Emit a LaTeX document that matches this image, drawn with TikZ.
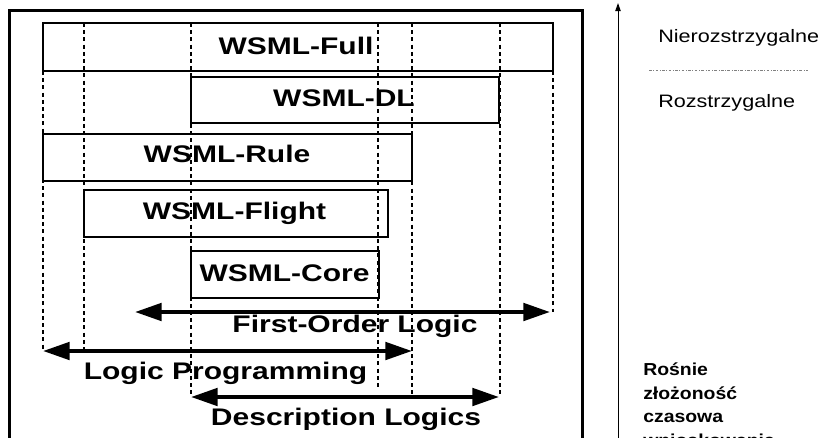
\documentclass[tikz,border=0pt]{standalone}
\usepackage{fontspec}
\setmainfont{Liberation Sans}
\newfontfamily\wsmlfont[FakeStretch=1.25]{Liberation Sans}
\newfontfamily\sidefont[FakeStretch=1.2]{Liberation Sans}
\newfontfamily\notefont[FakeStretch=1.12]{Liberation Sans}
\usetikzlibrary{arrows.meta}

\begin{document}
\begin{tikzpicture}[x=0.75pt,y=-0.75pt,
  box/.style={line width=1.1pt},
  guide/.style={line width=1.1pt, dash pattern=on 3pt off 2.4pt},
  span/.style={line width=3pt, {Triangle[length=20pt,width=13pt]}-{Triangle[length=20pt,width=13pt]}},
  lbl/.style={font=\wsmlfont\bfseries\fontsize{18}{20}\selectfont, inner sep=0pt, anchor=base},
  side/.style={font=\sidefont\fontsize{13.5}{16}\selectfont, inner sep=0pt, anchor=base west}]
\useasboundingbox (0,0) rectangle (821,437);

% frame
\draw[line width=2.25pt] (9,445) -- (9,10) -- (582,10) -- (582,445);

% language boxes
\draw[box] (43,23) rectangle (553,71);
\draw[box] (191,77) rectangle (499,123);
\draw[box] (43,134) rectangle (412,181);
\draw[box] (84,190) rectangle (388,237);
\draw[box] (191,251) rectangle (379,298);

% guide lines
\draw[guide] (43,71) -- (43,351);
\draw[guide] (84,23) -- (84,351);
\draw[guide] (191,23) -- (191,397);
\draw[guide] (378,23) -- (378,390);
\draw[guide] (412,23) -- (412,395);
\draw[guide] (500,23) -- (500,397);
\draw[guide] (553,71) -- (553,312);

\draw(296,54) node[lbl] (full) {WSML-Full};
\draw(344,106) node[lbl] (dl) {WSML-DL};
\draw(227,162) node[lbl] (rule) {WSML-Rule};
\draw(234.5,219) node[lbl] (flight) {WSML-Flight};
\draw(284.5,281) node[lbl] (core) {WSML-Core};

% logic ranges
\coordinate (fol-l) at (135,312);
\coordinate (fol-r) at (550,312);
\coordinate (lp-l) at (43,351);
\coordinate (lp-r) at (412,351);
\coordinate (dls-l) at (191,397);
\coordinate (dls-r) at (499,397);
\draw[span] (fol-l) -- (fol-r);
\draw[span] (lp-l) -- (lp-r);
\draw[span] (dls-l) -- (dls-r);
\draw(355,332) node[lbl] (fol) {First-Order Logic};
\draw(225.5,379) node[lbl] (lp) {Logic Programming};
\draw(346,425) node[lbl] (dls) {Description Logics};

% complexity axis
\coordinate (axis-b) at (618,445);
\coordinate (axis-t) at (618,3);
\draw[line width=0.75pt, -{Triangle[length=6pt,width=4pt]}] (axis-b) -- (axis-t);
\draw(658,42) node[side] (undec) {Nierozstrzygalne};
\draw[gray, line width=0.6pt, dash pattern=on 2pt off 1.2pt on 0.5pt off 1.2pt] (649,70) -- (810,70);
\draw(658,107) node[side] (dec) {Rozstrzygalne};
\draw(643,446) node[font=\notefont\bfseries\fontsize{13}{17.6}\selectfont, inner sep=0pt,
  anchor=base west, align=left] (cplx) {Rośnie\\złożoność\\czasowa\\wnioskowania};
\end{tikzpicture}
\end{document}
